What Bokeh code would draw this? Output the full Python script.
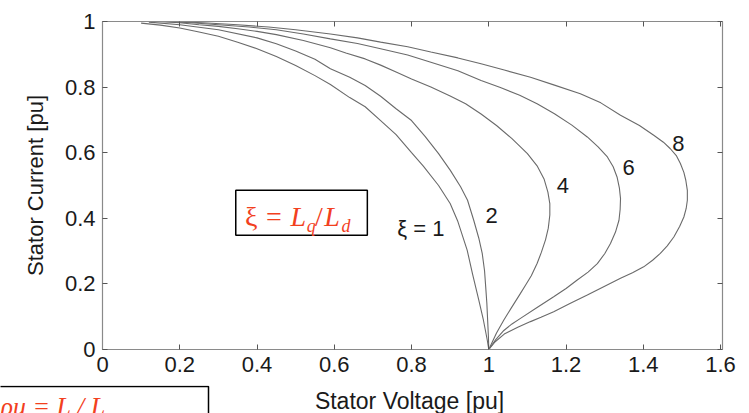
from bokeh.plotting import figure
from bokeh.layouts import column
from bokeh.models import Range1d, LinearAxis, Label, FixedTicker, BoxAnnotation, ColumnDataSource
from bokeh.embed import file_html
from bokeh.resources import INLINE
from bokeh.core.properties import value

# ---- data (stator voltage [pu], stator current [pu]) ----
xi1_v = [0.10, 0.15, 0.20, 0.25, 0.30, 0.35, 0.40, 0.45, 0.50, 0.55, 0.59, 0.64, 0.68, 0.72,
         0.76, 0.80, 0.83, 0.87, 0.90, 0.92, 0.944, 0.958, 0.974, 0.986, 0.996, 1.000]
xi1_i = [0.995, 0.989, 0.980, 0.968, 0.955, 0.937, 0.917, 0.893, 0.866, 0.835, 0.808, 0.768, 0.740, 0.698,
         0.655, 0.600, 0.560, 0.500, 0.445, 0.390, 0.303, 0.230, 0.151, 0.090, 0.029, 0.000]

xi2_v = [0.12, 0.20, 0.30, 0.40, 0.45, 0.50, 0.55, 0.59, 0.64, 0.68, 0.72, 0.76, 0.80, 0.835,
         0.87, 0.90, 0.927, 0.945, 0.961, 0.974, 0.983, 0.989, 0.992, 0.995, 0.997, 0.999, 1.000]
xi2_i = [0.998, 0.990, 0.975, 0.950, 0.932, 0.910, 0.885, 0.856, 0.830, 0.805, 0.772, 0.734, 0.698, 0.650,
         0.597, 0.547, 0.496, 0.455, 0.394, 0.340, 0.293, 0.240, 0.191, 0.140, 0.090, 0.040, 0.000]

xi4_v = [0.14, 0.20, 0.25, 0.30, 0.35, 0.40, 0.45, 0.52, 0.59, 0.63, 0.68, 0.72, 0.76, 0.80, 0.85,
         0.90, 0.94, 0.98, 1.02, 1.06, 1.10, 1.125, 1.143, 1.153, 1.158, 1.158, 1.154, 1.147, 1.136,
         1.125, 1.110, 1.095, 1.082, 1.060, 1.039, 1.020, 1.000]
xi4_i = [1.000, 0.996, 0.990, 0.985, 0.978, 0.970, 0.960, 0.942, 0.920, 0.904, 0.886, 0.867, 0.846, 0.825, 0.800,
         0.773, 0.749, 0.718, 0.683, 0.643, 0.597, 0.560, 0.520, 0.480, 0.445, 0.410, 0.370, 0.335, 0.296,
         0.262, 0.225, 0.196, 0.171, 0.130, 0.090, 0.050, 0.000]

xi6_v = [0.16, 0.23, 0.30, 0.38, 0.45, 0.52, 0.59, 0.66, 0.72, 0.79, 0.85, 0.92, 0.98, 1.03, 1.08,
         1.125, 1.17, 1.215, 1.255, 1.283, 1.307, 1.322, 1.332, 1.338, 1.341, 1.340, 1.337, 1.328,
         1.315, 1.300, 1.281, 1.257, 1.229, 1.200, 1.168, 1.125, 1.082, 1.060, 1.039, 1.018, 1.000]
xi6_i = [1.000, 0.996, 0.990, 0.983, 0.975, 0.962, 0.947, 0.933, 0.917, 0.898, 0.876, 0.850, 0.820, 0.799, 0.775,
         0.749, 0.719, 0.684, 0.648, 0.618, 0.587, 0.557, 0.526, 0.493, 0.460, 0.427, 0.394, 0.358,
         0.323, 0.292, 0.262, 0.236, 0.212, 0.186, 0.161, 0.128, 0.095, 0.078, 0.058, 0.030, 0.000]

xi8_v = [0.18, 0.26, 0.35, 0.43, 0.50, 0.59, 0.66, 0.72, 0.79, 0.85, 0.92, 0.98, 1.04, 1.108, 1.17,
         1.237, 1.29, 1.341, 1.39, 1.427, 1.452, 1.470, 1.486, 1.496, 1.505, 1.510, 1.514, 1.514,
         1.511, 1.505, 1.494, 1.479, 1.462, 1.444, 1.424, 1.401, 1.372, 1.341, 1.300, 1.255, 1.210,
         1.168, 1.135, 1.108, 1.075, 1.040, 1.015, 1.000]
xi8_i = [1.000, 0.996, 0.990, 0.983, 0.975, 0.962, 0.950, 0.937, 0.923, 0.907, 0.889, 0.871, 0.852, 0.830, 0.806,
         0.780, 0.752, 0.714, 0.683, 0.653, 0.632, 0.612, 0.590, 0.567, 0.540, 0.516, 0.485, 0.455,
         0.430, 0.404, 0.375, 0.343, 0.316, 0.293, 0.272, 0.252, 0.234, 0.217, 0.193, 0.166, 0.140,
         0.115, 0.098, 0.085, 0.068, 0.047, 0.022, 0.000]

curve_label_text = ["\u03be = 1", "2", "4", "6", "8"]
curve_label_v = [0.824, 1.007, 1.192, 1.362, 1.491]
curve_label_i = [0.369, 0.409, 0.501, 0.556, 0.628]

x_ticks = [0, 0.2, 0.4, 0.6, 0.8, 1.0, 1.2, 1.4, 1.6]
x_tick_labels = ["0", "0.2", "0.4", "0.6", "0.8", "1", "1.2", "1.4", "1.6"]
y_ticks = [0, 0.2, 0.4, 0.6, 0.8, 1.0]
y_tick_labels = ["0", "0.2", "0.4", "0.6", "0.8", "1"]

FONT = "Liberation Sans"
SERIF = "Liberation Serif"
RED = "#f2401e"
CURVE = "#6a6a6a"
INK = "#1a1a1a"

p = figure(width=749, height=385, output_backend="svg", toolbar_location=None,
           x_range=Range1d(0, 1.605), y_range=Range1d(0, 1),
           min_border_left=102, min_border_right=27, min_border_top=21, min_border_bottom=36)
p.grid.visible = False
p.outline_line_color = None
p.background_fill_color = "white"
p.border_fill_color = "white"

bottom_ax = p.below[0]
left_ax = p.left[0]

for xs, ys in [(xi1_v, xi1_i), (xi2_v, xi2_i), (xi4_v, xi4_i), (xi6_v, xi6_i), (xi8_v, xi8_i)]:
    p.line(xs, ys, line_color=CURVE, line_width=1.1)

src = ColumnDataSource(dict(x=curve_label_v, y=curve_label_i, t=curve_label_text))
p.text(x="x", y="y", text="t", source=src, text_font=value(FONT), text_font_size="22px",
       text_color=INK, text_align="center", text_baseline="middle")

x_ticker = FixedTicker(ticks=x_ticks)
y_ticker = FixedTicker(ticks=y_ticks)
bottom_ax.ticker = x_ticker
left_ax.ticker = y_ticker
bottom_ax.major_label_overrides = {t: l for t, l in zip(x_ticks, x_tick_labels)}
left_ax.major_label_overrides = {t: l for t, l in zip(y_ticks, y_tick_labels)}

top_ax = LinearAxis(ticker=x_ticker, major_label_standoff=0, major_label_text_color=None,
                    major_label_overrides={t: "" for t in x_ticks})
right_ax = LinearAxis(ticker=y_ticker, major_label_standoff=0, major_label_text_color=None,
                      major_label_overrides={t: "" for t in y_ticks})
p.add_layout(top_ax, "above")
p.add_layout(right_ax, "right")

for ax in [bottom_ax, left_ax, top_ax, right_ax]:
    ax.major_tick_in = 5
    ax.major_tick_out = 0
    ax.minor_tick_line_color = None
    ax.axis_line_color = "#8a8a8a"
    ax.axis_line_width = 1.2
    ax.major_tick_line_color = "#555555"
    ax.major_label_text_font = FONT
for ax in [bottom_ax, left_ax]:
    ax.major_label_text_color = INK
    ax.major_label_text_font_size = "22px"
    ax.major_label_standoff = 7
    ax.axis_label_text_font = FONT
    ax.axis_label_text_font_size = "22px"
    ax.axis_label_text_font_style = "normal"
    ax.axis_label_text_color = INK

left_ax.axis_label = "Stator Current [pu]"
left_ax.axis_label_standoff = 14

# xi = Lq/Ld box
p.add_layout(BoxAnnotation(left=0.345, right=0.6856, bottom=0.3486, top=0.4855,
                           fill_color="white", fill_alpha=1.0, line_color="black",
                           line_width=1.5, line_alpha=1.0))
pieces = [
    ("\u03be", 0.369, 0.405, "normal", "28px"),
    ("=", 0.423, 0.405, "normal", "28px"),
    ("L", 0.487, 0.405, "italic", "28px"),
    ("q", 0.529, 0.378, "italic", "18px"),
    ("/", 0.550, 0.405, "normal", "28px"),
    ("L", 0.574, 0.405, "italic", "28px"),
    ("d", 0.619, 0.378, "italic", "18px"),
]
for t, x, y, st, fs in pieces:
    p.add_layout(Label(x=x, y=y, text=t, text_font=SERIF, text_font_style=st,
                       text_font_size=fs, text_color=RED, text_align="left",
                       text_baseline="middle"))

# strip under the chart: x-axis title and the partly visible boxed formula
p2 = figure(width=749, height=28, output_backend="svg", toolbar_location=None,
            x_range=Range1d(0, 749), y_range=Range1d(0, 28),
            x_axis_location=None, y_axis_location=None, min_border=0,
            min_border_left=0, min_border_right=0, min_border_top=0, min_border_bottom=0)
p2.grid.visible = False
p2.outline_line_color = None
p2.background_fill_color = "white"
p2.border_fill_color = "white"
for fig in (p, p2):
    if "frame_align" in fig.properties():
        fig.frame_align = False
p2.add_layout(Label(x=409, y=13, text="Stator Voltage [pu]", text_font=FONT,
                    text_font_size="23px", text_color=INK,
                    text_align="center", text_baseline="middle"))
p2.add_layout(BoxAnnotation(left=-10, right=208, bottom=-10, top=27,
                            fill_color="white", fill_alpha=1.0, line_color="black",
                            line_width=1.5, line_alpha=1.0))
p2.add_layout(Label(x=0, y=22, text="\u03c1u = L / L", text_font=SERIF,
                    text_font_style="italic", text_font_size="26px", text_color=RED,
                    text_align="left", text_baseline="top"))

open("out.html", "w").write(file_html(column(p, p2, spacing=0), INLINE))
